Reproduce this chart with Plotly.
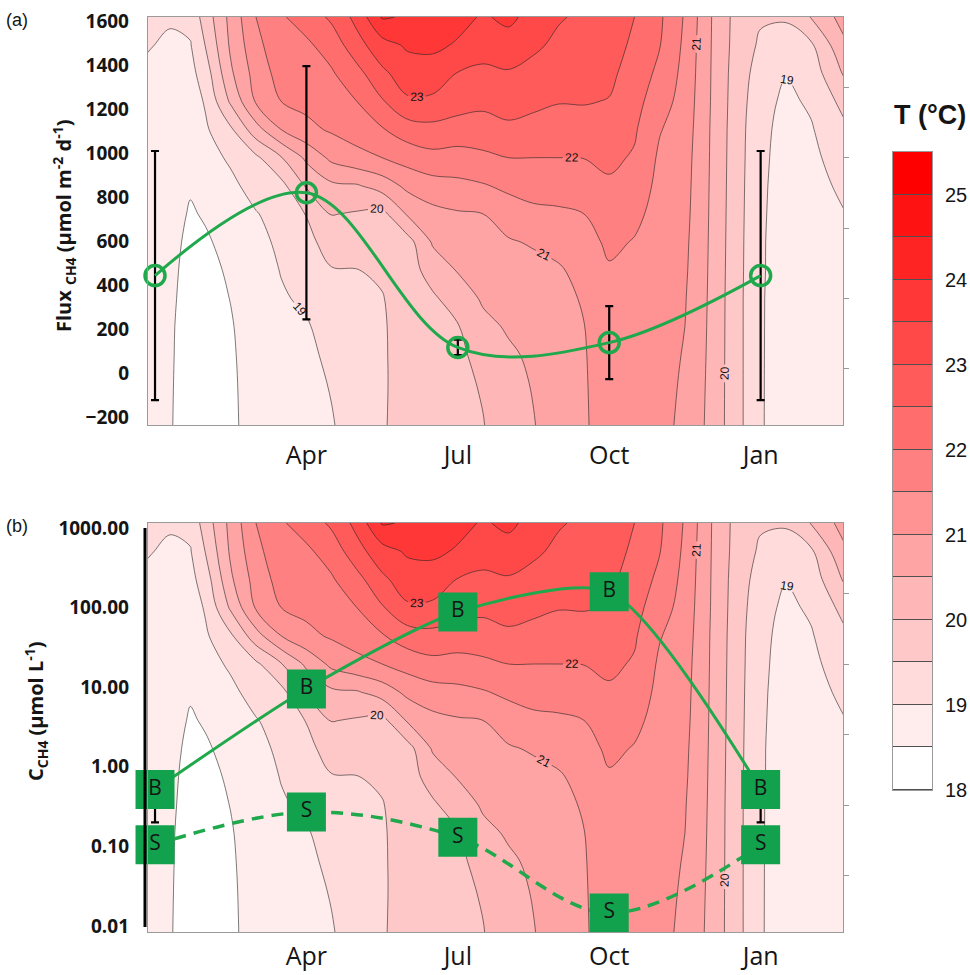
import numpy as np
import plotly.graph_objects as go

# ---------------- data ----------------
# temperature field (month since Jan, depth in m)
months_grid = [-0.15, 0.3, 0.7, 1.0, 1.5, 2.0, 2.5, 3.0, 3.5, 4.0, 4.5, 5.0, 5.5, 6.0, 6.5,
               7.0, 7.5, 8.0, 8.5, 9.0, 9.5, 10.0, 10.5, 11.0, 11.5, 12.0, 12.5, 13.0, 13.65]
depth_grid = [0, 2, 4, 6, 8, 10, 12, 14, 16, 18, 20, 22, 24, 26, 29]
# one profile (surface -> bottom) per month of months_grid
temp_profiles = [
    [19.15, 19.03, 18.92, 18.85, 18.80, 18.78, 18.76, 18.75, 18.74, 18.73, 18.72, 18.71, 18.70, 18.70, 18.70],
    [19.05, 18.93, 18.85, 18.80, 18.75, 18.72, 18.70, 18.67, 18.63, 18.60, 18.58, 18.56, 18.55, 18.54, 18.53],
    [19.15, 18.97, 18.85, 18.75, 18.67, 18.60, 18.54, 18.46, 18.40, 18.36, 18.33, 18.30, 18.30, 18.30, 18.30],
    [19.72, 19.52, 19.25, 19.05, 18.93, 18.80, 18.67, 18.54, 18.45, 18.38, 18.34, 18.32, 18.31, 18.30, 18.30],
    [20.65, 20.58, 20.42, 20.08, 19.42, 19.08, 18.88, 18.72, 18.63, 18.56, 18.51, 18.47, 18.45, 18.44, 18.43],
    [21.50, 21.35, 21.20, 21.05, 20.30, 19.40, 19.20, 18.97, 18.85, 18.78, 18.73, 18.70, 18.68, 18.66, 18.65],
    [21.95, 21.85, 21.70, 21.50, 21.00, 19.97, 19.35, 19.20, 19.10, 19.02, 18.95, 18.88, 18.83, 18.80, 18.78],
    [22.20, 21.92, 21.72, 21.62, 21.38, 20.60, 20.05, 19.52, 19.35, 19.22, 19.08, 18.96, 18.90, 18.87, 18.85],
    [22.60, 22.20, 21.95, 21.78, 21.56, 21.12, 20.40, 20.02, 19.72, 19.47, 19.30, 19.18, 19.10, 19.03, 18.97],
    [23.15, 22.82, 22.33, 22.00, 21.72, 21.35, 20.45, 19.95, 19.70, 19.49, 19.38, 19.30, 19.25, 19.22, 19.20],
    [24.05, 23.30, 22.90, 22.45, 21.96, 21.50, 20.72, 19.85, 19.68, 19.56, 19.48, 19.46, 19.46, 19.46, 19.47],
    [23.95, 23.57, 23.25, 22.93, 22.25, 21.70, 21.12, 20.55, 19.80, 19.76, 19.70, 19.66, 19.64, 19.63, 19.62],
    [23.85, 23.60, 23.28, 22.90, 22.35, 21.85, 21.30, 20.85, 20.55, 20.22, 19.92, 19.84, 19.80, 19.77, 19.75],
    [23.65, 23.45, 22.98, 22.70, 22.30, 21.80, 21.38, 20.95, 20.72, 20.53, 20.25, 19.97, 19.90, 19.87, 19.85],
    [23.45, 23.20, 22.90, 22.62, 22.28, 21.90, 21.46, 21.00, 20.85, 20.70, 20.56, 20.38, 20.16, 20.05, 19.98],
    [23.60, 23.32, 22.95, 22.70, 22.40, 22.00, 21.60, 21.25, 20.95, 20.78, 20.65, 20.55, 20.43, 20.36, 20.30],
    [23.35, 23.10, 22.82, 22.60, 22.35, 22.00, 21.70, 21.38, 21.05, 20.85, 20.72, 20.64, 20.58, 20.53, 20.48],
    [23.05, 22.88, 22.68, 22.52, 22.30, 22.00, 21.72, 21.42, 21.15, 20.95, 20.85, 20.80, 20.77, 20.75, 20.73],
    [22.90, 22.80, 22.65, 22.53, 22.30, 22.01, 21.75, 21.50, 21.30, 21.15, 21.05, 20.99, 20.97, 20.96, 20.95],
    [22.75, 22.68, 22.60, 22.48, 22.30, 22.10, 21.93, 21.77, 21.60, 21.45, 21.35, 21.28, 21.24, 21.22, 21.20],
    [22.50, 22.42, 22.30, 22.17, 22.06, 21.95, 21.80, 21.62, 21.47, 21.38, 21.33, 21.30, 21.29, 21.28, 21.28],
    [22.08, 22.02, 21.88, 21.72, 21.53, 21.42, 21.36, 21.32, 21.30, 21.28, 21.26, 21.24, 21.22, 21.20, 21.18],
    [21.45, 21.40, 21.35, 21.30, 21.25, 21.20, 21.17, 21.14, 21.10, 21.07, 21.03, 21.00, 20.96, 20.92, 20.86],
    [20.54, 20.53, 20.52, 20.51, 20.49, 20.48, 20.47, 20.46, 20.45, 20.44, 20.43, 20.42, 20.41, 20.40, 20.39],
    [19.86, 19.84, 19.80, 19.78, 19.76, 19.75, 19.74, 19.73, 19.72, 19.71, 19.70, 19.70, 19.70, 19.70, 19.70],
    [19.56, 19.42, 19.28, 19.18, 19.12, 19.10, 19.08, 19.07, 19.06, 19.06, 19.05, 19.05, 19.05, 19.05, 19.05],
    [19.55, 19.30, 19.02, 18.90, 18.85, 18.82, 18.80, 18.78, 18.76, 18.75, 18.74, 18.73, 18.72, 18.71, 18.70],
    [20.02, 19.42, 19.22, 19.07, 18.96, 18.88, 18.82, 18.78, 18.76, 18.74, 18.73, 18.72, 18.71, 18.70, 18.70],
    [20.70, 20.40, 20.05, 19.65, 19.40, 19.25, 19.10, 18.98, 18.92, 18.88, 18.85, 18.83, 18.82, 18.81, 18.80],
]

sample_month = [0, 3, 6, 9, 12]
month_tick_vals = [3, 6, 9, 12]
month_tick_text = ["Apr", "Jul", "Oct", "Jan"]

flux_mean = [444, 821, 117, 139, 444]
flux_err = [567, 576, 35, 166, 567]

conc_bottom = [0.52, 9.5, 88, 158, 0.52]
conc_surface = [0.105, 0.27, 0.13, 0.0146, 0.105]
bottom_err_month = [0, 12]
bottom_err_value = [0.52, 0.52]
bottom_err_minus = [0.32, 0.32]

flux_ticks = [-200, 0, 200, 400, 600, 800, 1000, 1200, 1400, 1600]
conc_ticks = [0.01, 0.1, 1, 10, 100, 1000]
conc_tick_text = ["0.01", "0.10", "1.00", "10.00", "100.00", "1000.00"]
depth_ticks = [5, 10, 15, 20, 25]
temp_band_mid = [18.25, 18.75, 19.25, 19.75, 20.25, 20.75, 21.25, 21.75,
                 22.25, 22.75, 23.25, 23.75, 24.25, 24.75, 25.25]
temp_ticks = [18, 19, 20, 21, 22, 23, 24, 25]

# ---------------- style ----------------
W, H = 970, 975
GREEN = "#20a84c"
GREEN_SQ = "#12a24e"
FRAME = "#9a9a9a"
TXT = "#151515"
CSCALE = [[0, "rgb(255,255,255)"], [1, "rgb(255,0,0)"]]

def px_x(p):
    return p / W

def px_y(p):
    return (H - p) / H

Z = np.array(temp_profiles).T.tolist()

fig = go.Figure()

def add_field(xa, ya):
    fig.add_trace(go.Contour(
        x=months_grid, y=depth_grid, z=Z, xaxis=xa, yaxis=ya,
        colorscale=CSCALE, autocontour=False,
        contours=dict(start=18.5, end=25, size=0.5, coloring="fill", showlines=False),
        line=dict(width=0, smoothing=1), showscale=False, hoverinfo="skip"))
    fig.add_trace(go.Contour(
        x=months_grid, y=depth_grid, z=Z, xaxis=xa, yaxis=ya, autocontour=False,
        contours=dict(start=18.5, end=24.5, size=1, coloring="none"),
        line=dict(width=0.7, color="rgba(35,35,35,0.85)", smoothing=1),
        showscale=False, hoverinfo="skip"))
    fig.add_trace(go.Contour(
        x=months_grid, y=depth_grid, z=Z, xaxis=xa, yaxis=ya, autocontour=False,
        contours=dict(start=19, end=24, size=1, coloring="none", showlabels=True,
                      labelfont=dict(size=12, color="#111", family="Liberation Sans")),
        line=dict(width=0.7, color="rgba(35,35,35,0.85)", smoothing=1),
        showscale=False, hoverinfo="skip"))

add_field("x", "y")
add_field("x2", "y2")

# panel (a): flux
fig.add_trace(go.Scatter(
    x=sample_month, y=flux_mean, xaxis="x", yaxis="y3", mode="markers",
    marker=dict(size=1, color="rgba(0,0,0,0)"),
    error_y=dict(type="data", array=flux_err, visible=True, color="black", thickness=2.2, width=4),
    cliponaxis=False, hoverinfo="skip"))
fig.add_trace(go.Scatter(
    x=sample_month, y=flux_mean, xaxis="x", yaxis="y3", mode="lines+markers",
    line=dict(shape="spline", smoothing=1, color=GREEN, width=3),
    marker=dict(symbol="circle-open", size=20, color=GREEN, line=dict(width=3.5, color=GREEN)),
    cliponaxis=False))

# panel (b): concentrations
fig.add_trace(go.Scatter(
    x=bottom_err_month, y=bottom_err_value, xaxis="x2", yaxis="y4", mode="markers",
    marker=dict(size=1, color="rgba(0,0,0,0)"),
    error_y=dict(type="data", symmetric=False, array=[0, 0], arrayminus=bottom_err_minus,
                 visible=True, color="black", thickness=2.2, width=4),
    cliponaxis=False, hoverinfo="skip"))
fig.add_trace(go.Scatter(
    x=sample_month, y=conc_surface, xaxis="x2", yaxis="y4", mode="lines+markers+text",
    line=dict(shape="spline", smoothing=1, color=GREEN, width=3.5, dash="12px,8px"),
    marker=dict(symbol="square", size=39, color=GREEN_SQ, line=dict(width=0)),
    text=["S"] * len(sample_month), textposition="middle center",
    textfont=dict(size=21, color=TXT, family="Open Sans"),
    cliponaxis=False))
fig.add_trace(go.Scatter(
    x=sample_month, y=conc_bottom, xaxis="x2", yaxis="y4", mode="lines+markers+text",
    line=dict(shape="spline", smoothing=0.7, color=GREEN, width=3),
    marker=dict(symbol="square", size=39, color=GREEN_SQ, line=dict(width=0)),
    text=["B"] * len(sample_month), textposition="middle center",
    textfont=dict(size=21, color=TXT, family="Open Sans"),
    cliponaxis=False))

# temperature legend bar
fig.add_trace(go.Heatmap(
    x=[0], y=temp_band_mid, z=[[v] for v in temp_band_mid], xaxis="x3", yaxis="y5",
    colorscale=CSCALE, zmin=18.25, zmax=25.25, showscale=False, ygap=1, hoverinfo="skip"))

XDOM = [px_x(148), px_x(843)]
XRANGE = [-0.139, 13.632]
tickfont_y = dict(size=19, color=TXT, family="Open Sans", weight="bold")
tickfont_x = dict(size=25, color=TXT, family="Open Sans")

common_x = dict(domain=XDOM, range=XRANGE, tickmode="array", tickvals=month_tick_vals,
                ticktext=month_tick_text, tickfont=tickfont_x, ticks="", showgrid=False,
                zeroline=False, showline=True, mirror=True, linecolor=FRAME, linewidth=1,
                automargin=False)
common_depth = dict(range=[29, 0], side="right", tickmode="array", tickvals=depth_ticks,
                    showticklabels=False, ticks="outside", ticklen=5, tickcolor=FRAME,
                    showgrid=False, zeroline=False, showline=True, mirror=True,
                    linecolor=FRAME, linewidth=1, automargin=False)

fig.update_layout(
    width=W, height=H, margin=dict(l=0, r=0, t=0, b=0, autoexpand=False),
    paper_bgcolor="white", plot_bgcolor="#505050", showlegend=False,
    font=dict(family="Open Sans", color=TXT),
    xaxis=dict(anchor="y", ticklabelstandoff=8, **common_x),
    xaxis2=dict(anchor="y2", ticklabelstandoff=2, **common_x),
    yaxis=dict(domain=[px_y(425), px_y(17)], anchor="x", **common_depth),
    yaxis2=dict(domain=[px_y(932), px_y(523)], anchor="x2", **common_depth),
    yaxis3=dict(overlaying="y", side="left", anchor="x", range=[-236, 1621],
                tickmode="array", tickvals=flux_ticks, tickfont=tickfont_y, ticks="",
                ticklabelstandoff=18, showgrid=False, zeroline=False, showline=False,
                automargin=False),
    yaxis4=dict(overlaying="y2", side="left", anchor="x2", type="log", range=[-2.075, 3.063],
                tickmode="array", tickvals=conc_ticks, ticktext=conc_tick_text,
                tickfont=tickfont_y, ticks="", ticklabelstandoff=18, showgrid=False,
                zeroline=False, showline=False, automargin=False),
    xaxis3=dict(domain=[px_x(893), px_x(932)], anchor="y5", range=[-0.5, 0.5],
                showticklabels=False, ticks="", showgrid=False, zeroline=False,
                showline=True, mirror=True, linecolor=FRAME, linewidth=1, automargin=False),
    yaxis5=dict(domain=[px_y(790), px_y(152)], anchor="x3", range=[18, 25.5], side="right",
                tickmode="array", tickvals=temp_ticks, ticks="", ticklabelstandoff=8,
                tickfont=dict(size=20, color=TXT, family="Liberation Sans"),
                showgrid=False, zeroline=False, showline=True, mirror=True,
                linecolor=FRAME, linewidth=1, automargin=False),
)

fig.add_shape(type="line", xref="paper", yref="paper", x0=px_x(145), x1=px_x(145),
              y0=px_y(927), y1=px_y(528), line=dict(color="black", width=3))

ann = [
    dict(text="(a)", x=px_x(17), y=px_y(20), font=dict(size=18, family="Liberation Sans", color=TXT)),
    dict(text="(b)", x=px_x(17), y=px_y(526), font=dict(size=18, family="Liberation Sans", color=TXT)),
    dict(text="<b>Flux <sub>CH4</sub> (µmol m<sup>-2</sup> d<sup>-1</sup>)</b>", x=px_x(64), y=px_y(226),
         textangle=-90, font=dict(size=20, family="Open Sans", color=TXT)),
    dict(text="<b>C<sub>CH4</sub> (µmol L<sup>-1</sup>)</b>", x=px_x(36), y=px_y(712),
         textangle=-90, font=dict(size=20, family="Open Sans", color=TXT)),
    dict(text="<b>T (°C)</b>", x=px_x(930), y=px_y(115),
         font=dict(size=27, family="Liberation Sans", color=TXT)),
]
for a in ann:
    fig.add_annotation(xref="paper", yref="paper", showarrow=False, xanchor="center",
                       yanchor="middle", **a)

post = ("document.documentElement.style.overflow='hidden';"
        "document.body.style.margin='0';document.body.style.overflow='hidden';"
        "var d=document.getElementById('{plot_id}');"
        "d.style.position='absolute';d.style.left='0px';d.style.top='0px';")
fig.write_html("out.html", post_script=post, config={"displayModeBar": False})
